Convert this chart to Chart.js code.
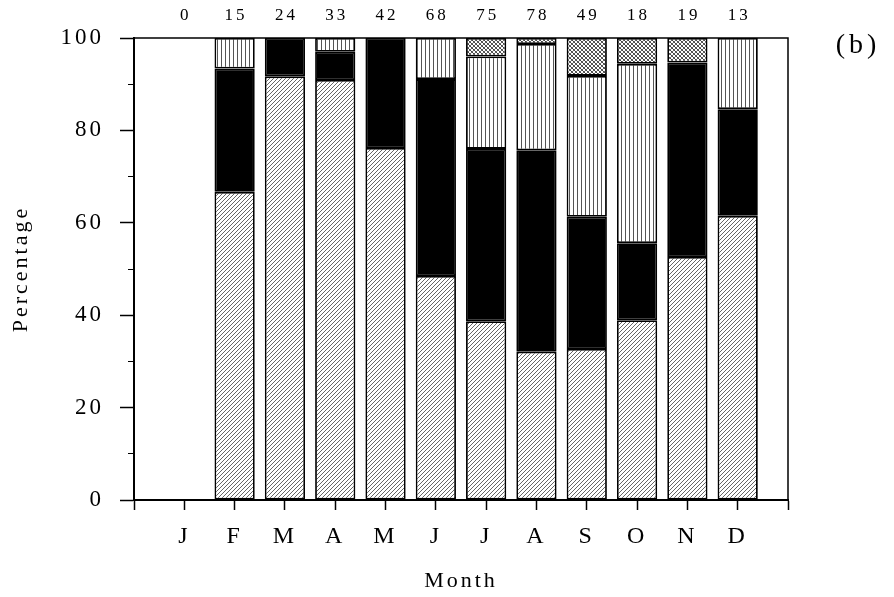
<!DOCTYPE html>
<html>
<head>
<meta charset="utf-8">
<script src="https://cdn.jsdelivr.net/npm/chart.js@4.4.1/dist/chart.umd.min.js"></script>
<style>
  html, body { margin: 0; padding: 0; background: #fff; }
  #wrap { width: 894px; height: 597px; }
</style>
</head>
<body>
<div id="wrap"><canvas id="myChart"></canvas></div>
<script>
// months and sample counts shown above the bars
var months = ['J', 'F', 'M', 'A', 'M', 'J', 'J', 'A', 'S', 'O', 'N', 'D']
var counts = [0, 15, 24, 33, 42, 68, 75, 78, 49, 18, 19, 13]

// percentage of each category per month (bottom to top)
var hatched  = [0, 66.7, 91.7, 90.9, 76.2, 48.5, 38.7, 32.1, 32.7, 38.9, 52.6, 61.5]
var solid    = [0, 26.7,  8.3,  6.1, 23.8, 42.6, 37.3, 43.6, 28.6, 16.7, 42.1, 23.1]
var vertical = [0,  6.6,  0,    3.0,  0,    8.9, 20.0, 23.0, 30.5, 38.8,  0,   15.4]
var crossed  = [0,  0,    0,    0,    0,    0,    4.0,  1.3,  8.2,  5.6,  5.3,  0]

var yTicks = [0, 20, 40, 60, 80, 100]

var serif = '"Liberation Serif", "Times New Roman", serif'

function makePattern(kind) {
    var c = document.createElement('canvas')
    c.width = 4; c.height = 4
    var g = c.getContext('2d')
    g.fillStyle = '#fff'
    g.fillRect(0, 0, 4, 4)
    g.strokeStyle = '#555'
    g.lineWidth = 0.9
    if (kind == 'diag' || kind == 'cross') {
        g.beginPath()
        g.moveTo(-1, 5); g.lineTo(5, -1)
        g.moveTo(-1, 1); g.lineTo(1, -1)
        g.moveTo(3, 5); g.lineTo(5, 3)
        g.stroke()
    }
    if (kind == 'cross') {
        g.strokeStyle = '#333'
        g.beginPath()
        g.moveTo(-1, -1); g.lineTo(5, 5)
        g.moveTo(3, -1); g.lineTo(5, 1)
        g.moveTo(-1, 3); g.lineTo(1, 5)
        g.stroke()
    }
    if (kind == 'vert') {
        g.fillStyle = '#555'
        g.fillRect(1, 0, 1, 4)
    }
    return g.createPattern(c, 'repeat')
}

// pad with an empty slot on each side so ticks sit on the bars
var labels = [''].concat(months).concat([''])
function pad(arr) {
    return [null].concat(arr.map(function (v) { return v > 0 ? v : null })).concat([null])
}

function ds(label, arr, fill) {
    return {
        label: label,
        data: pad(arr),
        backgroundColor: fill,
        borderColor: '#000',
        borderWidth: 1.8,
        borderSkipped: false,
        barPercentage: 0.8,
        categoryPercentage: 1.0
    }
}

var extras = {
    id: 'extras',
    beforeDraw: function (chart) {
        chart.ctx.letterSpacing = '3px'
    },
    afterDraw: function (chart) {
        var ctx = chart.ctx
        var a = chart.chartArea
        var xs = chart.scales.x
        ctx.save()
        // frame top and right
        ctx.strokeStyle = '#000'
        ctx.lineWidth = 1.5
        ctx.beginPath()
        ctx.moveTo(a.left, a.top)
        ctx.lineTo(a.right, a.top)
        ctx.lineTo(a.right, a.bottom)
        ctx.stroke()
        // counts above bars
        ctx.fillStyle = '#000'
        ctx.font = '17px ' + serif
        ctx.letterSpacing = '3px'
        ctx.textAlign = 'center'
        ctx.textBaseline = 'middle'
        counts.forEach(function (n, i) {
            ctx.fillText(String(n), xs.getPixelForValue(i + 1) + 1.5, a.top - 22)
        })
        // panel letter
        ctx.font = '28px ' + serif
        ctx.letterSpacing = '4px'
        ctx.fillText('(b)', a.right + 70, a.top + 8)
        ctx.restore()
    }
}

var ctx = document.getElementById('myChart').getContext('2d')
var chart = new Chart(ctx, {
    type: 'bar',
    data: {
        labels: labels,
        datasets: [
            ds('hatched', hatched, makePattern('diag')),
            ds('solid', solid, '#000'),
            ds('vertical', vertical, makePattern('vert')),
            ds('crossed', crossed, makePattern('cross'))
        ]
    },
    options: {
        responsive: true,
        maintainAspectRatio: false,
        animation: false,
        layout: { padding: { left: 0, right: 106, top: 38, bottom: 0 } },
        plugins: { legend: { display: false }, tooltip: { enabled: false } },
        scales: {
            x: {
                stacked: true,
                offset: false,
                grid: { offset: false, drawOnChartArea: false, tickLength: 10, tickColor: '#000', tickWidth: 1.5 },
                border: { color: '#000', width: 2 },
                ticks: { color: '#000', font: { family: serif, size: 24 }, padding: 12, maxRotation: 0, autoSkip: false },
                title: { display: true, text: 'Month', color: '#000', font: { family: serif, size: 22 }, padding: { top: 0, bottom: 3 } },
                afterFit: function (s) { s.height = 97 }
            },
            y: {
                stacked: true,
                min: 0,
                max: 100,
                weight: 1,
                grid: { drawOnChartArea: false, tickLength: 14, tickColor: '#000', tickWidth: 1.5 },
                border: { color: '#000', width: 2 },
                ticks: { stepSize: 20, color: '#000', font: { family: serif, size: 23 }, padding: 16 },
                afterBuildTicks: function (s) { s.ticks = yTicks.map(function (v) { return { value: v } }) },
                title: { display: true, text: 'Percentage', color: '#000', font: { family: serif, size: 22 }, padding: { top: 8, bottom: 0 } },
                afterFit: function (s) { s.width = 134 }
            },
            yMinor: {
                position: 'left',
                min: 0,
                max: 100,
                weight: 0,
                grid: { drawOnChartArea: false, tickLength: 6, tickColor: '#000', tickWidth: 1 },
                border: { display: false },
                ticks: { stepSize: 10, display: false },
                afterFit: function (s) { s.width = 0 }
            }
        }
    },
    plugins: [extras]
});
</script>
</body>
</html>
